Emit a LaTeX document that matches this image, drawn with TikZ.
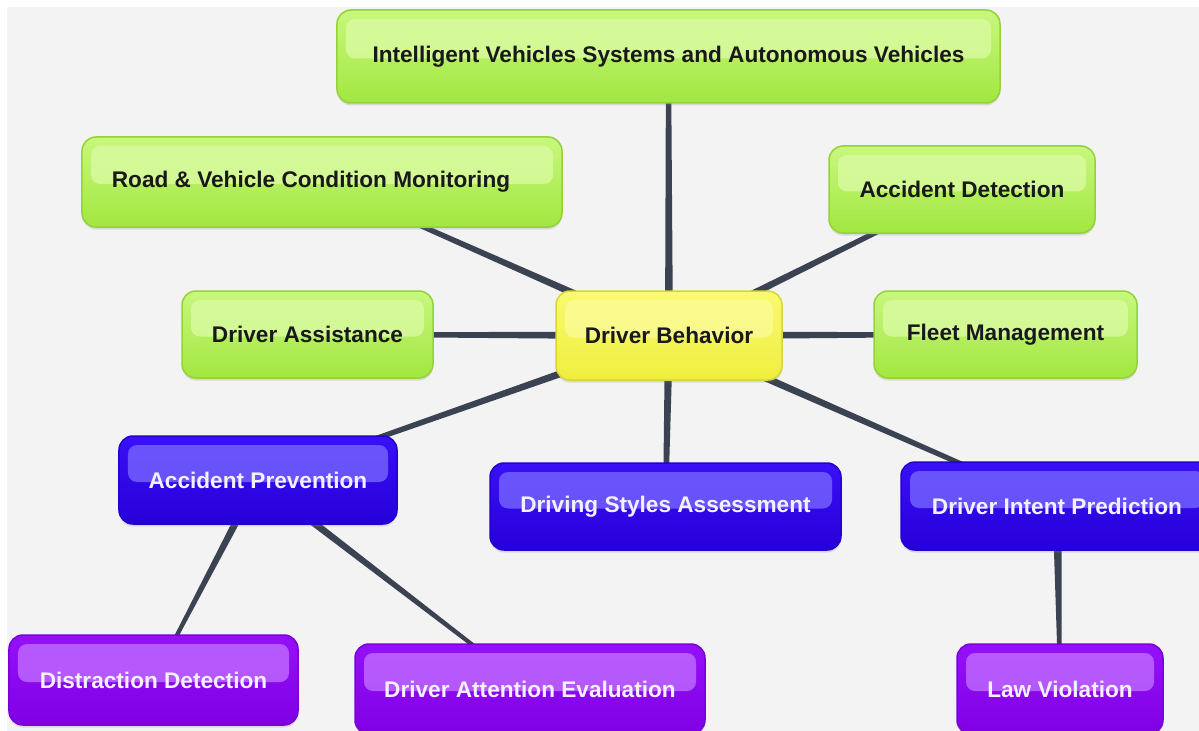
\documentclass[tikz,border=0pt]{standalone}
\usepackage{fontspec}
\setmainfont{Liberation Sans}
\usetikzlibrary{calc,shadows}
\pgfdeclarelayer{back}
\pgfdeclarelayer{lines}
\pgfsetlayers{back,lines,main}
\definecolor{bggray}{HTML}{F3F3F3}
\definecolor{linecol}{HTML}{3B4352}
\definecolor{gtop}{HTML}{C8F77E}
\definecolor{gbot}{HTML}{A2E740}
\definecolor{gborder}{HTML}{93D336}
\definecolor{ghl}{HTML}{DAFBA2}
\definecolor{ytop}{HTML}{FAFA70}
\definecolor{ybot}{HTML}{EEEE3E}
\definecolor{yborder}{HTML}{D6D63A}
\definecolor{yhl}{HTML}{FBFB98}
\definecolor{btop}{HTML}{3A10F8}
\definecolor{bbot}{HTML}{2600D8}
\definecolor{bborder}{HTML}{2400D0}
\definecolor{bhl}{HTML}{7666FF}
\definecolor{ptop}{HTML}{9410F8}
\definecolor{pbot}{HTML}{8000E4}
\definecolor{pborder}{HTML}{7A00D8}
\definecolor{phl}{HTML}{C06CFF}
\definecolor{lighttext}{HTML}{F4F0FF}
\newcommand\taper[4]{%
  \fill[linecol] ($(#1.center)!#3!90:(#2.center)$) -- ($(#2.center)!#4!-90:(#1.center)$)
    -- ($(#2.center)!#4!90:(#1.center)$) -- ($(#1.center)!#3!-90:(#2.center)$) -- cycle;}
\tikzset{
  box/.style={rounded corners=14bp, line width=1.5bp, inner sep=0pt,
    font=\fontsize{22.7}{26}\selectfont\bfseries,
    drop shadow={shadow xshift=0bp, shadow yshift=-2.5bp, opacity=0.22}},
  hl/.style={path picture={\fill[#1, fill opacity=0.8, rounded corners=9bp]
    ($(path picture bounding box.north west)+(9bp,-9bp)$) rectangle
    ($(path picture bounding box.east)+(-9bp,-2bp)$);}},
  greenbox/.style={box, draw=gborder, top color=gtop, bottom color=gbot, hl=ghl, text=black!90},
  yellowbox/.style={box, draw=yborder, top color=ytop, bottom color=ybot, hl=yhl, text=black!90},
  bluebox/.style={box, draw=bborder, top color=btop, bottom color=bbot, hl=bhl, text=lighttext},
  purplebox/.style={box, draw=pborder, top color=ptop, bottom color=pbot, hl=phl, text=lighttext},
}
\begin{document}
\begin{tikzpicture}[x=1bp,y=-1bp]
\useasboundingbox (0,0) rectangle (1199,731);
\clip (0,0) rectangle (1199,731);
\begin{pgfonlayer}{back}
  \fill[white] (0,0) rectangle (1199,731);
  \fill[bggray] (7,7) rectangle (1199,731);
\end{pgfonlayer}

\node[yellowbox, minimum width=226bp, minimum height=89bp] (behav) at (669,335.5) {Driver Behavior};
\node[greenbox, minimum width=663bp, minimum height=93bp] (ivs) at (668.5,56.5) {Intelligent Vehicles Systems and Autonomous Vehicles};
\node[greenbox, minimum width=480bp, minimum height=90bp] (road) at (322,182) {Road \& Vehicle Condition Monitoring\kern22bp};
\node[greenbox, minimum width=266bp, minimum height=87bp] (accdet) at (962,189.5) {Accident Detection};
\node[greenbox, minimum width=251bp, minimum height=87bp] (assist) at (307.5,334.5) {Driver Assistance};
\node[greenbox, minimum width=263bp, minimum height=87bp] (fleet) at (1005.5,334.5) {Fleet Management};
\node[bluebox, minimum width=278bp, minimum height=88bp] (prev) at (258,480) {Accident Prevention};
\node[bluebox, minimum width=351bp, minimum height=87bp] (styles) at (665.5,506.5) {Driving Styles Assessment};
\node[bluebox, minimum width=312bp, minimum height=88bp] (intent) at (1057,506) {Driver Intent Prediction};
\node[purplebox, minimum width=289bp, minimum height=90bp] (distr) at (153.5,680) {Distraction Detection};
\node[purplebox, minimum width=350bp, minimum height=90bp] (attn) at (530,689) {Driver Attention Evaluation};
\node[purplebox, minimum width=206bp, minimum height=90bp] (law) at (1060,689) {Law Violation};

\begin{pgfonlayer}{lines}
  \taper{behav}{ivs}{4bp}{2.5bp}
  \taper{behav}{road}{4bp}{2bp}
  \taper{behav}{accdet}{4bp}{2bp}
  \taper{behav}{assist}{4bp}{2bp}
  \taper{behav}{fleet}{4bp}{2bp}
  \taper{behav}{prev}{4bp}{2bp}
  \taper{behav}{styles}{4bp}{2.5bp}
  \taper{behav}{intent}{4bp}{2bp}
  \taper{prev}{distr}{4bp}{1.5bp}
  \taper{prev}{attn}{4bp}{1.5bp}
  \taper{intent}{law}{4.5bp}{1.5bp}
\end{pgfonlayer}
\end{tikzpicture}
\end{document}
